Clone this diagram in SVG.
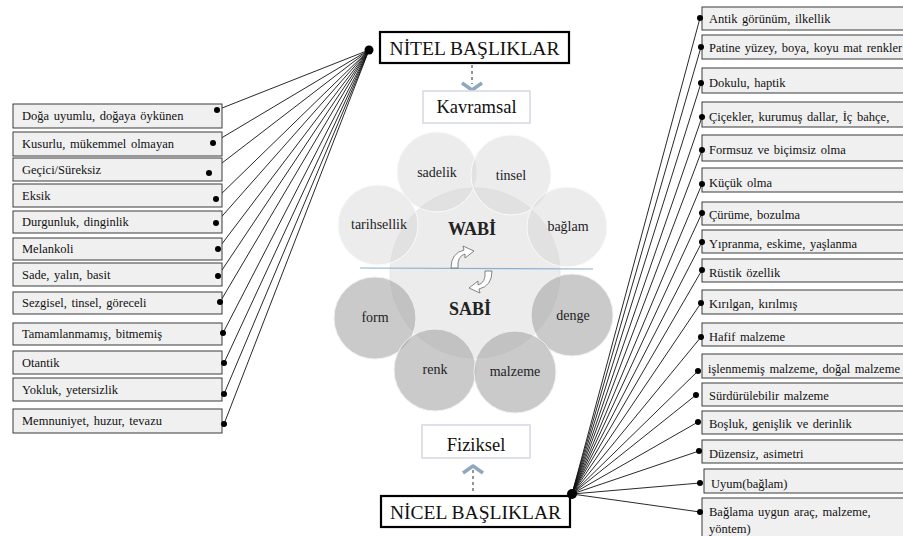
<svg xmlns="http://www.w3.org/2000/svg" width="903" height="536" viewBox="0 0 903 536" font-family="'Liberation Serif', 'DejaVu Serif', serif">
<style>
text{font-family:'Liberation Serif','DejaVu Serif',serif}
.box{fill:#f0f0f0;stroke:#3a3a3a;stroke-width:1}
.hbox{fill:#fff;stroke:#000;stroke-width:2.2}
.lbox{fill:#fff;stroke:#d6dbe3;stroke-width:1.6}
.t{font-size:12.5px;fill:#111;word-spacing:1.5px}
.h{font-size:19.5px;fill:#111}
.k{font-size:18.5px;fill:#111;text-anchor:middle}
.c{font-size:14px;fill:#222;text-anchor:middle}
.b{font-size:18px;font-weight:bold;fill:#222;text-anchor:middle}
.conn line{stroke:#111;stroke-width:0.9}
.dot{fill:#000}
.top{fill:#d4d4d4;fill-opacity:0.45;stroke:#fafafa;stroke-width:1}
.bot{fill:#a6a6a6;fill-opacity:0.6;stroke:#f0f0f0;stroke-width:1}
.arr{stroke:#8fa7bf;fill:none}
.curv{fill:#fff;stroke:#666;stroke-width:0.8}
</style>

<!-- connectors -->
<g id="connectors" class="conn">
<line x1="369" y1="50" x2="217" y2="110"/>
<line x1="369" y1="50" x2="213" y2="143"/>
<line x1="369" y1="50" x2="209" y2="173"/>
<line x1="369" y1="50" x2="216" y2="199"/>
<line x1="369" y1="50" x2="216" y2="223"/>
<line x1="369" y1="50" x2="218" y2="249"/>
<line x1="369" y1="50" x2="218" y2="276"/>
<line x1="369" y1="50" x2="220" y2="302"/>
<line x1="369" y1="50" x2="223" y2="333"/>
<line x1="369" y1="50" x2="224" y2="363"/>
<line x1="369" y1="50" x2="224" y2="394"/>
<line x1="369" y1="50" x2="224" y2="424"/>
<line x1="572" y1="494" x2="700" y2="18"/>
<line x1="572" y1="494" x2="701" y2="47"/>
<line x1="572" y1="494" x2="701" y2="83"/>
<line x1="572" y1="494" x2="702" y2="117"/>
<line x1="572" y1="494" x2="702" y2="150"/>
<line x1="572" y1="494" x2="702" y2="184"/>
<line x1="572" y1="494" x2="702" y2="213"/>
<line x1="572" y1="494" x2="702" y2="242"/>
<line x1="572" y1="494" x2="702" y2="270"/>
<line x1="572" y1="494" x2="701" y2="303"/>
<line x1="572" y1="494" x2="701" y2="337"/>
<line x1="572" y1="494" x2="698" y2="371"/>
<line x1="572" y1="494" x2="696" y2="395"/>
<line x1="572" y1="494" x2="698" y2="422"/>
<line x1="572" y1="494" x2="699" y2="451"/>
<line x1="572" y1="494" x2="700" y2="483"/>
<line x1="572" y1="494" x2="700" y2="512"/>
<g class="arr">
<line x1="472" y1="65" x2="472" y2="84" stroke-width="3" stroke-dasharray="3,3"/>
<polyline points="462,83 472,90 482,83" stroke-width="3.5" stroke-linejoin="round"/>
<line x1="473" y1="491" x2="473" y2="470" stroke-width="3" stroke-dasharray="3,3"/>
<polyline points="463,473 473,466 483,473" stroke-width="3.5" stroke-linejoin="round"/>
</g>
</g>

<!-- headers -->
<g id="nitel">
<rect class="hbox" x="380" y="32" width="189" height="31"/>
<text class="h" x="474.5" y="55" text-anchor="middle">NİTEL BAŞLIKLAR</text>
<circle class="dot" cx="369" cy="50" r="4.5"/>
</g>
<g id="nicel">
<rect class="hbox" x="381" y="496" width="189" height="31"/>
<text class="h" x="475.5" y="519" text-anchor="middle">NİCEL BAŞLIKLAR</text>
<circle class="dot" cx="572" cy="494" r="5"/>
</g>
<g id="kavramsal">
<rect class="lbox" x="423" y="91" width="107" height="32"/>
<text class="k" x="476.5" y="113">Kavramsal</text>
</g>
<g id="fiziksel">
<rect class="lbox" x="422" y="425" width="108" height="33"/>
<text class="k" x="476" y="451">Fiziksel</text>
</g>

<!-- center -->
<g id="center">
<circle cx="475" cy="273" r="85" fill="#d0d0d0" fill-opacity="0.4" stroke="#e6e6e6"/>
<g id="c-sadelik"><circle class="top" cx="437" cy="172" r="40"/><text class="c" x="437" y="177">sadelik</text></g>
<g id="c-tinsel"><circle class="top" cx="511" cy="175" r="40"/><text class="c" x="511" y="180">tinsel</text></g>
<g id="c-tarihsellik"><circle class="top" cx="378" cy="225" r="40"/><text class="c" x="379" y="229">tarihsellik</text></g>
<g id="c-baglam"><circle class="top" cx="567" cy="227" r="40"/><text class="c" x="568" y="231">bağlam</text></g>
<g id="c-form"><circle class="bot" cx="375" cy="318" r="41"/><text class="c" x="375" y="322">form</text></g>
<g id="c-denge"><circle class="bot" cx="572" cy="315" r="41"/><text class="c" x="573" y="320">denge</text></g>
<g id="c-renk"><circle class="bot" cx="435" cy="370" r="41"/><text class="c" x="435" y="374">renk</text></g>
<g id="c-malzeme"><circle class="bot" cx="515" cy="372" r="41"/><text class="c" x="515" y="376">malzeme</text></g>
<line x1="360" y1="268" x2="593" y2="269" stroke="#8ab0d0" stroke-width="1.2"/>
<text class="b" x="472" y="235">WABİ</text>
<text class="b" x="470" y="315">SABİ</text>
<path class="curv" d="M451,268 Q451,253 464,250 L463,246 L474,251 L465,258 L465,254 Q457,256 458,268 Z"/>
<path class="curv" d="M451,268 Q451,253 464,250 L463,246 L474,251 L465,258 L465,254 Q457,256 458,268 Z" transform="rotate(180 471.5 269.5)"/>
</g>

<!-- left boxes -->
<g id="l1"><rect class="box" x="13" y="104" width="209" height="24"/><text class="t" x="22" y="120">Doğa uyumlu, doğaya öykünen</text><circle class="dot" cx="217" cy="110" r="3"/></g>
<g id="l2"><rect class="box" x="13" y="132" width="209" height="24"/><text class="t" x="22" y="148">Kusurlu, mükemmel olmayan</text><circle class="dot" cx="213" cy="143" r="3"/></g>
<g id="l3"><rect class="box" x="13" y="158" width="209" height="23"/><text class="t" x="22" y="174">Geçici/Süreksiz</text><circle class="dot" cx="209" cy="173" r="3"/></g>
<g id="l4"><rect class="box" x="13" y="184" width="209" height="23"/><text class="t" x="22" y="200">Eksik</text><circle class="dot" cx="216" cy="199" r="3"/></g>
<g id="l5"><rect class="box" x="13" y="211" width="209" height="22"/><text class="t" x="22" y="226">Durgunluk, dinginlik</text><circle class="dot" cx="216" cy="223" r="3"/></g>
<g id="l6"><rect class="box" x="13" y="238" width="209" height="22"/><text class="t" x="22" y="253">Melankoli</text><circle class="dot" cx="218" cy="249" r="3"/></g>
<g id="l7"><rect class="box" x="13" y="263" width="209" height="23"/><text class="t" x="22" y="279">Sade, yalın, basit</text><circle class="dot" cx="218" cy="276" r="3"/></g>
<g id="l8"><rect class="box" x="13" y="292" width="209" height="22"/><text class="t" x="22" y="307">Sezgisel, tinsel, göreceli</text><circle class="dot" cx="220" cy="302" r="3"/></g>
<g id="l9"><rect class="box" x="13" y="323" width="209" height="22"/><text class="t" x="22" y="338">Tamamlanmamış, bitmemiş</text><circle class="dot" cx="223" cy="333" r="3"/></g>
<g id="l10"><rect class="box" x="13" y="351" width="209" height="23"/><text class="t" x="22" y="367">Otantik</text><circle class="dot" cx="224" cy="363" r="3"/></g>
<g id="l11"><rect class="box" x="13" y="378" width="209" height="23"/><text class="t" x="22" y="394">Yokluk, yetersizlik</text><circle class="dot" cx="224" cy="394" r="3"/></g>
<g id="l12"><rect class="box" x="13" y="409" width="209" height="24"/><text class="t" x="22" y="425">Memnuniyet, huzur, tevazu</text><circle class="dot" cx="224" cy="424" r="3"/></g>

<!-- right boxes -->
<g id="r1"><rect class="box" x="702" y="7" width="210" height="23"/><text class="t" x="709" y="23">Antik görünüm, ilkellik</text><circle class="dot" cx="700" cy="18" r="3"/></g>
<g id="r2"><rect class="box" x="702" y="35" width="210" height="24"/><text class="t" x="709" y="52">Patine yüzey, boya, koyu mat renkler</text><circle class="dot" cx="701" cy="47" r="3"/></g>
<g id="r3"><rect class="box" x="702" y="68" width="210" height="25"/><text class="t" x="709" y="87">Dokulu, haptik</text><circle class="dot" cx="701" cy="83" r="3"/></g>
<g id="r4"><rect class="box" x="702" y="102" width="210" height="25"/><text class="t" x="709" y="121">Çiçekler, kurumuş dallar, İç bahçe,</text><circle class="dot" cx="702" cy="117" r="3"/></g>
<g id="r5"><rect class="box" x="702" y="135" width="210" height="26"/><text class="t" x="709" y="154">Formsuz ve biçimsiz olma</text><circle class="dot" cx="702" cy="150" r="3"/></g>
<g id="r6"><rect class="box" x="702" y="168" width="210" height="24"/><text class="t" x="709" y="187">Küçük olma</text><circle class="dot" cx="702" cy="184" r="3"/></g>
<g id="r7"><rect class="box" x="702" y="202" width="210" height="23"/><text class="t" x="709" y="219">Çürüme, bozulma</text><circle class="dot" cx="702" cy="213" r="3"/></g>
<g id="r8"><rect class="box" x="702" y="230" width="210" height="23"/><text class="t" x="709" y="248">Yıpranma, eskime, yaşlanma</text><circle class="dot" cx="702" cy="242" r="3"/></g>
<g id="r9"><rect class="box" x="702" y="259" width="210" height="23"/><text class="t" x="709" y="277">Rüstik özellik</text><circle class="dot" cx="702" cy="270" r="3"/></g>
<g id="r10"><rect class="box" x="702" y="290" width="210" height="24"/><text class="t" x="709" y="308">Kırılgan, kırılmış</text><circle class="dot" cx="701" cy="303" r="3"/></g>
<g id="r11"><rect class="box" x="702" y="323" width="210" height="23"/><text class="t" x="709" y="341">Hafif malzeme</text><circle class="dot" cx="701" cy="337" r="3"/></g>
<g id="r12"><rect class="box" x="702" y="354" width="210" height="24"/><text class="t" x="708" y="373">işlenmemiş malzeme, doğal malzeme</text><circle class="dot" cx="698" cy="371" r="3"/></g>
<g id="r13"><rect class="box" x="702" y="383" width="210" height="23"/><text class="t" x="709" y="400">Sürdürülebilir malzeme</text><circle class="dot" cx="696" cy="395" r="3"/></g>
<g id="r14"><rect class="box" x="702" y="411" width="210" height="23"/><text class="t" x="709" y="428">Boşluk, genişlik ve derinlik</text><circle class="dot" cx="698" cy="422" r="3"/></g>
<g id="r15"><rect class="box" x="702" y="440" width="210" height="23"/><text class="t" x="709" y="458">Düzensiz, asimetri</text><circle class="dot" cx="699" cy="451" r="3"/></g>
<g id="r16"><rect class="box" x="704" y="469" width="210" height="24"/><text class="t" x="711" y="488">Uyum(bağlam)</text><circle class="dot" cx="700" cy="483" r="3"/></g>
<g id="r17"><rect class="box" x="702" y="498" width="210" height="45"/><text class="t" x="709" y="516">Bağlama uygun araç, malzeme,</text><text class="t" x="709" y="533">yöntem)</text><circle class="dot" cx="700" cy="512" r="3"/></g>
</svg>
